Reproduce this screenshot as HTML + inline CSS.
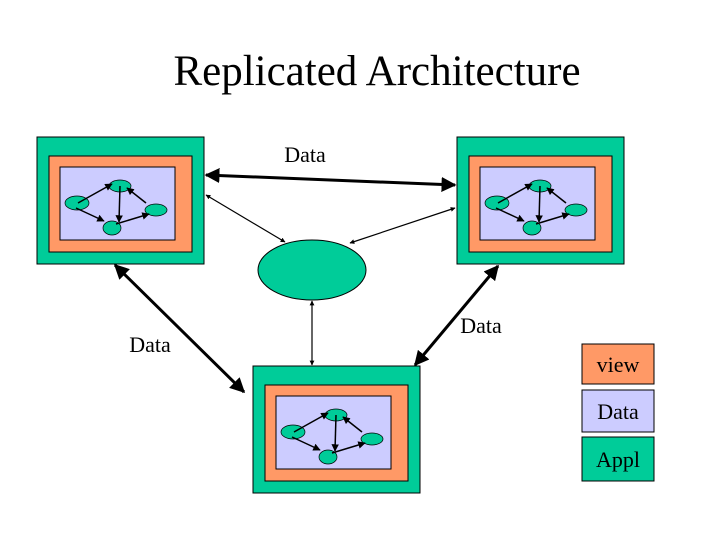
<!DOCTYPE html><html><head><style>body{margin:0;background:#fff}svg text{font-family:"Liberation Serif",serif}</style></head><body>
<svg width="720" height="540" viewBox="0 0 720 540" xmlns="http://www.w3.org/2000/svg">
<defs>
<marker id="a" viewBox="0 0 10 10" refX="9" refY="5" markerWidth="5" markerHeight="5" orient="auto-start-reverse"><path d="M0,0L10,5L0,10z" fill="#000"/></marker>
<marker id="b" viewBox="0 0 10 10" refX="9" refY="5" markerWidth="4" markerHeight="4" orient="auto-start-reverse"><path d="M0,0L10,5L0,10z" fill="#000"/></marker>
<g id="box">
<rect x="37" y="137" width="167" height="127" fill="#00cc99" stroke="#000"/>
<rect x="49" y="156" width="143" height="96" fill="#ff9966" stroke="#000"/>
<rect x="60" y="167" width="115" height="73" fill="#ccccff" stroke="#000"/>
<ellipse cx="120" cy="186" rx="11" ry="6" fill="#00cc99" stroke="#000" stroke-width=".7"/>
<ellipse cx="77" cy="203" rx="12" ry="7" fill="#00cc99" stroke="#000" stroke-width=".7"/>
<ellipse cx="112" cy="228" rx="9" ry="7" fill="#00cc99" stroke="#000" stroke-width=".7"/>
<ellipse cx="156" cy="210" rx="11" ry="6" fill="#00cc99" stroke="#000" stroke-width=".7"/>
<g stroke="#000" stroke-width="1.5" marker-end="url(#a)">
<line x1="78" y1="203" x2="112" y2="184"/>
<line x1="120" y1="186" x2="119" y2="222"/>
<line x1="146" y1="203" x2="127" y2="188"/>
<line x1="76" y1="208" x2="104" y2="221"/>
<line x1="116" y1="224" x2="149" y2="214"/>
</g></g></defs>
<text x="377" y="85" font-size="43" text-anchor="middle">Replicated Architecture</text>
<use href="#box"/>
<use href="#box" transform="translate(420,0)"/>
<use href="#box" transform="translate(216,229)"/>
<ellipse cx="312" cy="270" rx="54" ry="30" fill="#00cc99" stroke="#000"/>
<g stroke="#000" fill="none">
<line x1="206" y1="175" x2="455" y2="185" stroke-width="3" marker-start="url(#a)" marker-end="url(#a)"/>
<line x1="115" y1="265" x2="244" y2="392" stroke-width="3" marker-start="url(#a)" marker-end="url(#a)"/>
<line x1="498" y1="266" x2="415" y2="365" stroke-width="3" marker-start="url(#a)" marker-end="url(#a)"/>
<line x1="206" y1="195" x2="285" y2="242" stroke-width="1.2" marker-start="url(#b)" marker-end="url(#b)"/>
<line x1="455" y1="208" x2="350" y2="243" stroke-width="1.2" marker-start="url(#b)" marker-end="url(#b)"/>
<line x1="312" y1="301" x2="312" y2="365" stroke-width="1.2" marker-start="url(#b)" marker-end="url(#b)"/>
</g>
<g font-size="22" text-anchor="middle">
<text x="305" y="162">Data</text>
<text x="150" y="352">Data</text>
<text x="481" y="333">Data</text>
</g>
<rect x="582" y="344" width="72" height="40" fill="#ff9966" stroke="#000"/>
<rect x="582" y="390" width="72" height="42" fill="#ccccff" stroke="#000"/>
<rect x="582" y="437" width="72" height="44" fill="#00cc99" stroke="#000"/>
<g font-size="22" text-anchor="middle">
<text x="618" y="372">view</text>
<text x="618" y="419">Data</text>
<text x="618" y="467">Appl</text>
</g>
</svg></body></html>
